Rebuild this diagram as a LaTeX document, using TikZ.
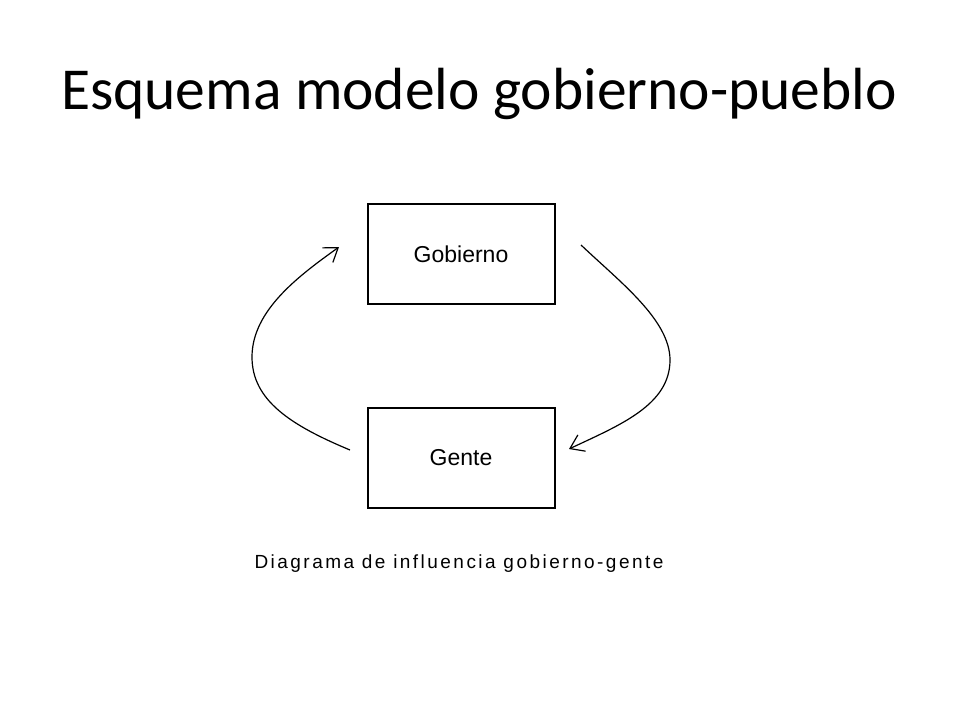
\documentclass[tikz,border=0pt]{standalone}
\usepackage{fontspec}
\usepackage{tikz}
\usetikzlibrary{arrows.meta}
\setmainfont{Liberation Sans}
\newfontfamily\titlefont{Carlito}
\newfontfamily\capfont[LetterSpace=13]{Liberation Sans}

\tikzset{
	caja/.style={draw, line width=2pt, minimum width=187pt, minimum height=100pt, inner sep=0pt, font=\fontsize{23}{26}\selectfont},
	flecha/.style={line width=1.2pt, -{Straight Barb[length=13pt,width=18pt,line width=1.2pt]}}
}

\begin{document}
\begin{tikzpicture}[x=1pt,y=-1pt]
	\useasboundingbox (0,0) rectangle (960,720);
	\node[anchor=base] (titulo) at (479,109) {\titlefont\fontsize{59.5}{64}\selectfont Esquema modelo gobierno-pueblo};
	\node[caja] (gobierno) at (461,254) {Gobierno};
	\node[caja] (gente) at (461,458) {Gente};
	\node[anchor=base] (pie) at (459,568) {\capfont\fontsize{19}{22}\selectfont Diagrama de influencia gobierno-gente};
	\coordinate (izq0) at (350,450);
	\coordinate (izq1) at (339,247);
	\coordinate (der0) at (581,245);
	\coordinate (der1) at (569,449);
	\draw[flecha] (izq0) .. controls (290,425) and (252,400) .. (252,357) .. controls (252,310) and (300,275) .. (izq1);
	\draw[flecha] (der0) .. controls (620,282) and (670,320) .. (670,360) .. controls (670,405) and (620,425) .. (der1);
\end{tikzpicture}
\end{document}
